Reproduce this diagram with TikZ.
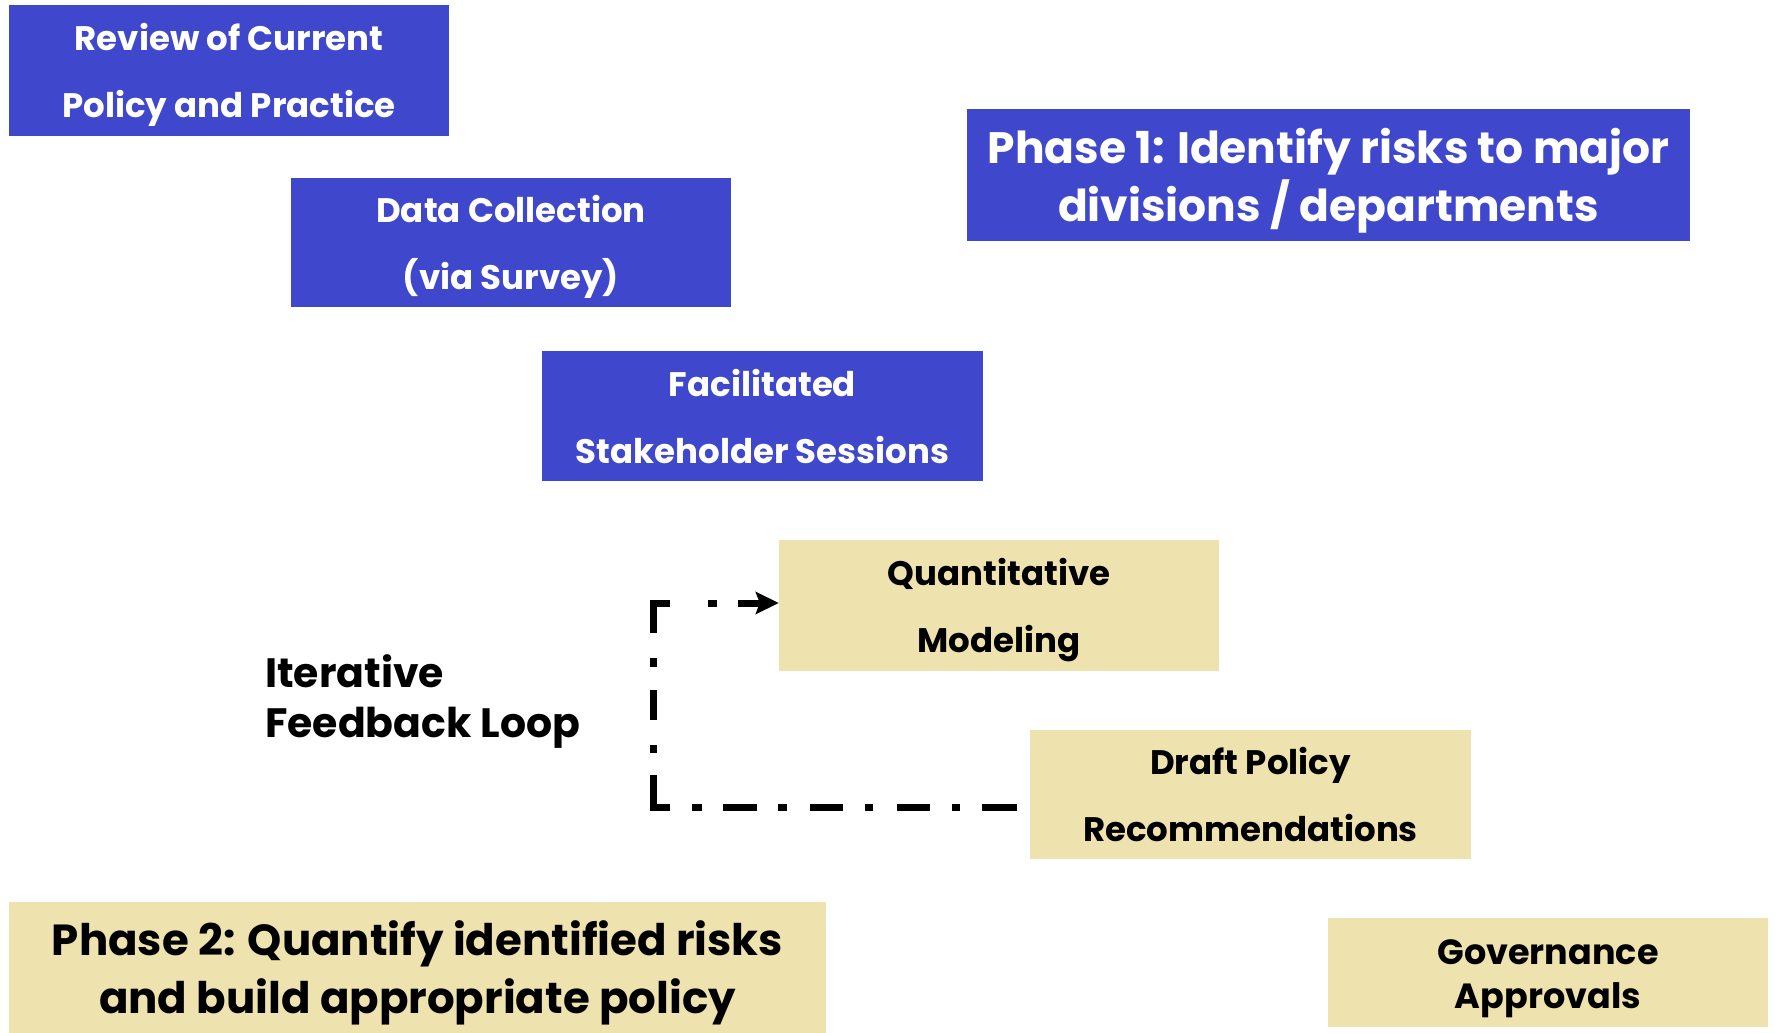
\documentclass[tikz,border=0pt]{standalone}
\usepackage{fontspec}
\setmainfont{Poppins}
\usetikzlibrary{arrows.meta}
\definecolor{phaseblue}{RGB}{63,72,204}
\definecolor{phasetan}{RGB}{238,226,175}
\newcommand{\twolines}[2]{\rule{0pt}{1.1em}#1\\#2\rule[-0.3em]{0pt}{0pt}}
\tikzset{
  bluebox/.style={rectangle, fill=phaseblue, text=white, inner sep=0pt, align=center, font=\bfseries\fontsize{34}{67}\selectfont},
  tanbox/.style={rectangle, fill=phasetan, text=black, inner sep=0pt, align=center, font=\bfseries\fontsize{34}{67}\selectfont},
  loopline/.style={line width=7pt,
    dash pattern=on 35pt off 22pt on 8pt off 22pt on 33pt off 24pt on 8pt off 22pt on 33pt off 23pt on 9pt off 21pt on 34pt off 21pt on 10pt off 22pt on 49pt off 22pt on 8pt off 25pt on 30pt off 23pt on 9pt off 25pt on 47pt off 38pt on 9pt off 21pt on 100pt off 10pt,
    -{Stealth[length=23pt,width=22pt,inset=4pt]}}
}
\begin{document}
\begin{tikzpicture}[x=1pt,y=-1pt]
\useasboundingbox (0,0) rectangle (1775,1033);
\node[bluebox, minimum width=440pt, minimum height=131pt] (review) at (229,70.5) {\twolines{Review of Current}{Policy and Practice}};
\node[bluebox, minimum width=440pt, minimum height=129pt] (data) at (511,242.5) {\twolines{Data Collection}{(via Survey)}};
\node[bluebox, minimum width=441pt, minimum height=130pt] (facil) at (762.5,416) {\twolines{Facilitated}{Stakeholder Sessions}};
\node[bluebox, minimum width=723pt, minimum height=132pt, font=\bfseries\fontsize{44}{58}\selectfont] (phase1) at (1328.5,175) {\twolines{Phase 1: Identify risks to major}{divisions / departments}};
\node[tanbox, minimum width=440pt, minimum height=131pt] (quant) at (999,605.5) {\twolines{Quantitative}{Modeling}};
\node[tanbox, minimum width=441pt, minimum height=129pt] (draft) at (1250.5,794.5) {\twolines{Draft Policy}{Recommendations}};
\node[tanbox, minimum width=817pt, minimum height=131pt, font=\bfseries\fontsize{43.5}{58}\selectfont] (phase2) at (417.5,967.5) {\twolines{Phase 2: Quantify identified risks}{and build appropriate policy}};
\node[tanbox, minimum width=440pt, minimum height=109pt, font=\bfseries\fontsize{35}{44}\selectfont] (gov) at (1548,972.5) {\twolines{Governance}{Approvals}};
\node[anchor=west, align=left, inner sep=0pt, font=\bfseries\fontsize{41}{50}\selectfont] (iter) at (265,696) {\twolines{Iterative}{Feedback Loop}};
\coordinate (loopstart) at (1017,807);
\coordinate (loopcorner) at (653,603);
\draw[loopline] (loopstart) -| (loopcorner) -- (quant.west |- loopcorner);
\end{tikzpicture}
\end{document}
